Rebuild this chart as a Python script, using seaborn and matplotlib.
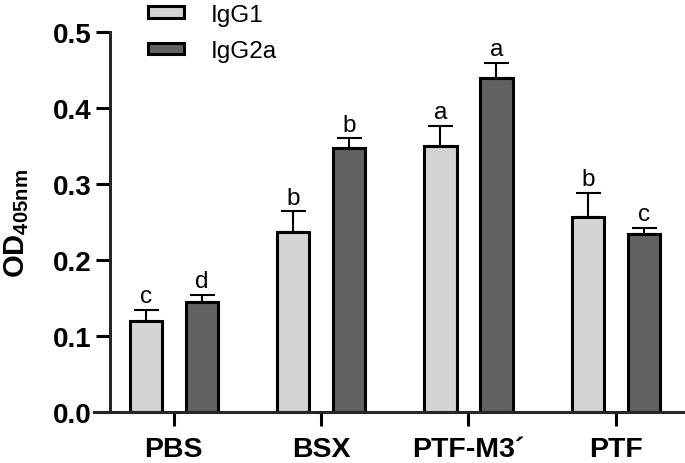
import numpy as np
import pandas as pd
import seaborn as sns
import matplotlib.pyplot as plt
from matplotlib.patches import Patch

groups = ['PBS', 'BSX', 'PTF-M3´', 'PTF']
isotypes = ['IgG1', 'IgG2a']
igg1_mean = [0.120, 0.237, 0.350, 0.257]
igg1_err = [0.014, 0.027, 0.026, 0.031]
igg2a_mean = [0.145, 0.347, 0.440, 0.234]
igg2a_err = [0.009, 0.013, 0.019, 0.008]
igg1_letters = ['c', 'b', 'a', 'b']
igg2a_letters = ['d', 'b', 'a', 'c']

colors = ['#d3d3d3', '#616161']

df = pd.DataFrame({
    'group': groups * 2,
    'isotype': ['IgG1'] * 4 + ['IgG2a'] * 4,
    'od': igg1_mean + igg2a_mean,
    'err': igg1_err + igg2a_err,
    'letter': igg1_letters + igg2a_letters,
})

sns.set_style('ticks')
plt.rcParams['font.family'] = ['Liberation Sans', 'DejaVu Sans']
plt.rcParams['mathtext.fontset'] = 'custom'
plt.rcParams['mathtext.rm'] = 'Liberation Sans'
plt.rcParams['mathtext.bf'] = 'Liberation Sans:bold'
plt.rcParams['text.color'] = 'black'
plt.rcParams['axes.labelcolor'] = 'black'
plt.rcParams['xtick.color'] = 'black'
plt.rcParams['ytick.color'] = 'black'

fig = plt.figure(figsize=(6.85, 4.64), dpi=100)
ax = fig.add_axes([0.137, 0.11, 0.863, 0.819])

sns.barplot(ax=ax, data=df, x='group', y='od', hue='isotype', order=groups,
            hue_order=isotypes, palette=colors, width=0.76, gap=0.42,
            errorbar=None, edgecolor='black', linewidth=2.2, legend=False,
            saturation=1)

# error bars (upward only) and letters, taken from drawn bar positions
for i, iso in enumerate(isotypes):
    sub = df[df['isotype'] == iso].set_index('group').loc[groups]
    bars = ax.containers[i]
    for bar, (_, row) in zip(bars, sub.iterrows()):
        xc = bar.get_x() + bar.get_width() / 2
        ax.errorbar(xc, row['od'], yerr=[[0], [row['err']]], fmt='none',
                    ecolor='black', elinewidth=1.5, capsize=9, capthick=1.5,
                    zorder=1)
        ax.annotate(row['letter'], (xc, row['od'] + row['err']),
                    xytext=(0, 2), textcoords='offset points',
                    ha='center', va='bottom', fontsize=17.5)

ax.set_xlim(-0.543, 3.47)
ax.set_ylim(0, 0.5)
ax.set_yticks([0.0, 0.1, 0.2, 0.3, 0.4, 0.5])
ax.set_yticklabels(['0.0', '0.1', '0.2', '0.3', '0.4', '0.5'])
ax.spines['left'].set_position(('data', -0.435))
ax.spines['right'].set_visible(False)
ax.spines['top'].set_visible(False)
for s in ['left', 'bottom']:
    ax.spines[s].set_linewidth(2.2)
ax.tick_params(width=2.2, length=10)
ax.tick_params(axis='x', labelsize=20.5, pad=7)
ax.tick_params(axis='y', labelsize=20, pad=3)
for lab in ax.get_xticklabels() + ax.get_yticklabels():
    lab.set_fontweight('bold')
ax.set_xlabel('')
ax.set_ylabel('OD$_{\\mathbf{405nm}}$', fontsize=21, fontweight='bold', labelpad=16)

handles = [Patch(facecolor=c, edgecolor='black', linewidth=2.2) for c in colors]
ax.legend(handles, isotypes, loc='upper left', bbox_to_anchor=(0.216, 0.99),
          bbox_transform=fig.transFigure, borderpad=0, borderaxespad=0,
          frameon=False, fontsize=17.5, handlelength=1.5, handleheight=0.35,
          labelspacing=0.6, handletextpad=1.1)

fig.savefig('out.png', dpi=100)
